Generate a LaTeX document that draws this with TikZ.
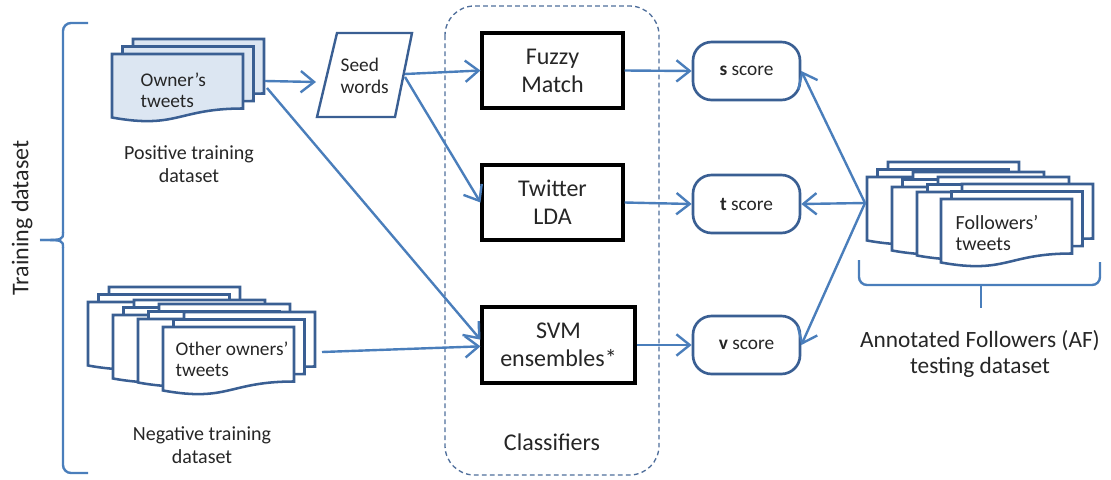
\documentclass[tikz,border=0pt]{standalone}
\usepackage{fontspec}
\setmainfont{Carlito}
\usetikzlibrary{arrows.meta}
\definecolor{arrowblue}{HTML}{4A7EBB}
\definecolor{docblue}{HTML}{3A5F93}
\definecolor{lightfill}{HTML}{DCE6F2}
\definecolor{dashblue}{HTML}{4F6E9B}
\definecolor{txt}{HTML}{262626}
\newcommand\onedoc[3]{%
  \filldraw[docline, fill=#3] (#1,#2) -- ({#1+131},#2) -- ({#1+131},{#2+54.5})
    .. controls ({#1+65.5},{#2+54.5}) and ({#1+65.5},{#2+75.3}) .. (#1,{#2+63.5}) -- cycle;}
\newcommand\multidoc[3]{%
  \onedoc{#1+21}{#2-15}{#3}\onedoc{#1+10.5}{#2-7.5}{#3}\onedoc{#1}{#2}{#3}}
\tikzset{
  docline/.style={draw=docblue, line width=1.9pt, line join=miter},
  arr/.style={draw=arrowblue, line width=1.8pt, -{Straight Barb[length=10pt,width=16pt,line width=1.8pt]}},
  clsbox/.style={draw=black, line width=2.3pt, fill=white, font=\fontsize{18}{21}\selectfont, align=center, text=txt},
  scorebox/.style={draw=docblue, line width=2pt, rounded corners=14pt, minimum width=80.25pt, minimum height=43.5pt, font=\fontsize{14.5}{17}\selectfont, text=txt},
  lbl/.style={text=txt, align=center},
  brace/.style={draw=arrowblue, line width=1.8pt, rounded corners=6pt}
}
\begin{document}
\begin{tikzpicture}[x=0.75pt,y=-0.75pt]
\useasboundingbox (0,0) rectangle (1111,479);
% classifiers container
\draw[dashblue, line width=1pt, dash pattern=on 3.5pt off 2.5pt, rounded corners=22pt] (445,6) rectangle (659,475);
\node[lbl, font=\fontsize{18}{21}\selectfont] (clslbl) at (552,442) {Classifiers};
% training brace
\draw[brace] (88,23) -- (63,23) -- (63,233);
\draw[draw=arrowblue, line width=1.8pt] (63,232) .. controls (63,240) .. (40,240);
\draw[draw=arrowblue, line width=1.8pt] (40,240) .. controls (63,240) .. (63,248);
\draw[brace] (63,247) -- (63,473) -- (88,473);
\node[lbl, rotate=90, font=\fontsize{18}{21}\selectfont] (trainlbl) at (22,218) {Training dataset};
% positive docs
\multidoc{112}{54}{lightfill}
\node[text=txt, anchor=west, align=left, font=\fontsize{14.5}{15.5}\selectfont] (owntxt) at (136,90) {Owner’s\\tweets};
\node[lbl, font=\fontsize{15}{17.25}\selectfont] (poslbl) at (189,164) {Positive training\\dataset};
% negative docs
\multidoc{88}{302}{white}
\multidoc{113}{315}{white}
\multidoc{138}{319}{white}
\multidoc{163}{327}{white}
\node[text=txt, anchor=west, align=left, font=\fontsize{14.5}{15.5}\selectfont] (negtxt) at (171,359) {Other owners’\\tweets};
\node[lbl, font=\fontsize{15}{17.25}\selectfont] (neglbl) at (202,445) {Negative training\\dataset};
% followers docs
\multidoc{867}{177}{white}
\multidoc{892}{187}{white}
\multidoc{917}{192}{white}
\multidoc{941}{199}{white}
\node[text=txt, anchor=west, align=left, font=\fontsize{15}{16}\selectfont] (foltxt) at (951,233) {Followers’\\tweets};
\draw[brace] (859,260) -- (859,285) -- (1100,285) -- (1100,262);
\draw[draw=arrowblue, line width=1.8pt] (981,285) -- (981,308);
\node[lbl, font=\fontsize{17.5}{20}\selectfont] (aflbl) at (980,354) {Annotated Followers (AF)\\testing dataset};
% seed words
\draw[docline, line width=1.8pt] (317,117) -- (337,33) -- (412,33) -- (395,117) -- cycle;
\node[text=txt, anchor=west, align=left, font=\fontsize{14.5}{16.5}\selectfont] (seed) at (336,76) {Seed\\words};
% classifier boxes
\node[clsbox, minimum width=105.75pt, minimum height=56.25pt] (fuzzy) at (552.5,70.5) {Fuzzy\\Match};
\node[clsbox, minimum width=105.75pt, minimum height=56.25pt] (lda) at (552.5,202.5) {Twitter\\LDA};
\node[clsbox, minimum width=114.75pt, minimum height=57pt] (svm) at (558.5,345) {SVM\\ensembles*};
% scores
\node[scorebox] (s) at (746.5,71) {\textbf{s} score};
\node[scorebox] (t) at (746.5,204) {\textbf{t} score};
\node[scorebox] (v) at (746.5,345) {\textbf{v} score};
% connector endpoints
\coordinate (owno1) at (265,81);
\coordinate (owno2) at (267,88);
\coordinate (seedin) at (316,82);
\coordinate (seedo1) at (405,74);
\coordinate (seedo2) at (405,77);
\coordinate (nego) at (322,352);
\coordinate (folo) at (865,203);
% connectors
\draw[arr] (owno1) -- (seedin);
\draw[arr] (owno2) -- ([yshift=4pt]svm.west);
\draw[arr] (seedo1) -- (fuzzy.west);
\draw[arr] (seedo2) -- (lda.west);
\draw[arr] (nego) -- ([yshift=-1pt]svm.west);
\draw[arr] (fuzzy.east) -- (s.west);
\draw[arr] (lda.east) -- (t.west);
\draw[arr] (svm.east) -- (v.west);
\draw[arr] (folo) -- (s.east);
\draw[arr] (folo) -- (t.east);
\draw[arr] (folo) -- (v.east);
\end{tikzpicture}
\end{document}
